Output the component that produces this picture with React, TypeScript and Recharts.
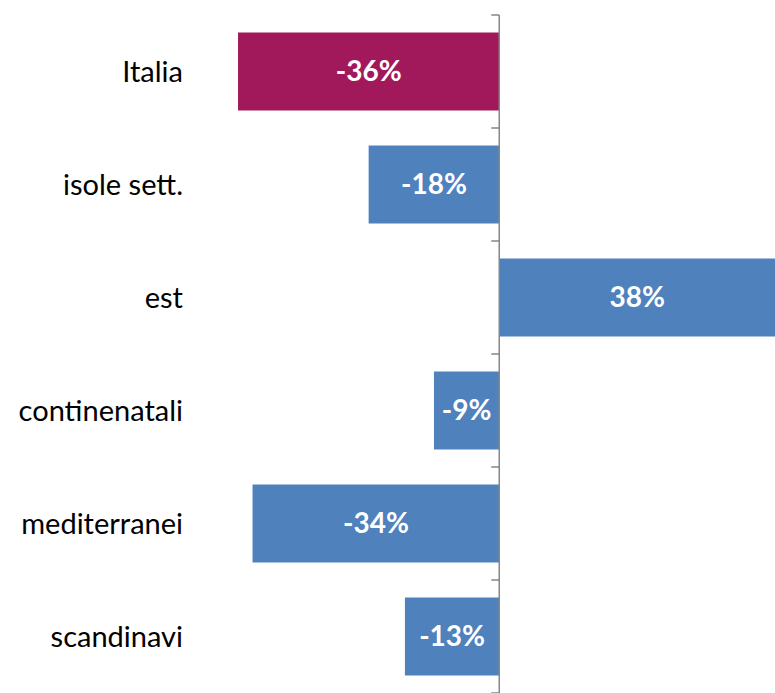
import React from 'react';
import { BarChart, Bar, XAxis, YAxis, Cell, LabelList, ReferenceLine } from 'recharts';

const categories = ['Italia', 'isole sett.', 'est', 'continenatali', 'mediterranei', 'scandinavi'];
const changes = [-36, -18, 38, -9, -34, -13];
const barColors = ['#A2195B', '#4F81BD', '#4F81BD', '#4F81BD', '#4F81BD', '#4F81BD'];

const data = categories.map((name, i) => ({ name, value: changes[i] }));

const FONT = 'Lato, "Open Sans", sans-serif';

// vertical axis at zero with small tick marks on the category boundaries
const ZeroAxis = (props: any) => {
  const { x1, y1, y2 } = props;
  const top = Math.min(y1, y2);
  const bottom = Math.max(y1, y2);
  const step = (bottom - top) / categories.length;
  const ticks = [];
  for (let i = 0; i <= categories.length; i++) {
    const y = top + i * step;
    ticks.push(<line key={i} x1={x1 - 8} x2={x1} y1={y} y2={y} stroke="#868686" strokeWidth={1.5} />);
  }
  return (
    <g>
      <line x1={x1} x2={x1} y1={top} y2={bottom} stroke="#868686" strokeWidth={1.5} />
      {ticks}
    </g>
  );
};

const App: React.FC = () => {
  return (
    <div style={{ position: 'absolute', left: 0, top: 0, width: 775, height: 693, background: '#fff' }}>
      <BarChart
        width={775}
        height={693}
        data={data}
        layout="vertical"
        margin={{ top: 15, right: 0, bottom: 0, left: 0 }}
        barCategoryGap="15.5%"
        style={{ fontFamily: FONT }}
      >
        <XAxis type="number" domain={[-40, 38]} hide />
        <YAxis
          type="category"
          dataKey="name"
          width={209}
          axisLine={false}
          tickLine={false}
          tickSize={0}
          tickMargin={26}
          tick={{ fill: '#000', fontSize: 29, fontFamily: FONT }}
        />
        <Bar dataKey="value" isAnimationActive={false}>
          {data.map((d, i) => (
            <Cell key={d.name} fill={barColors[i]} />
          ))}
          <LabelList
            dataKey="value"
            position="center"
            formatter={(v: any) => `${v}%`}
            style={{ fill: '#fff', fontSize: 28, fontWeight: 700, fontFamily: FONT }}
          />
        </Bar>
        <ReferenceLine x={0} shape={ZeroAxis} />
      </BarChart>
    </div>
  );
};

export default App;
